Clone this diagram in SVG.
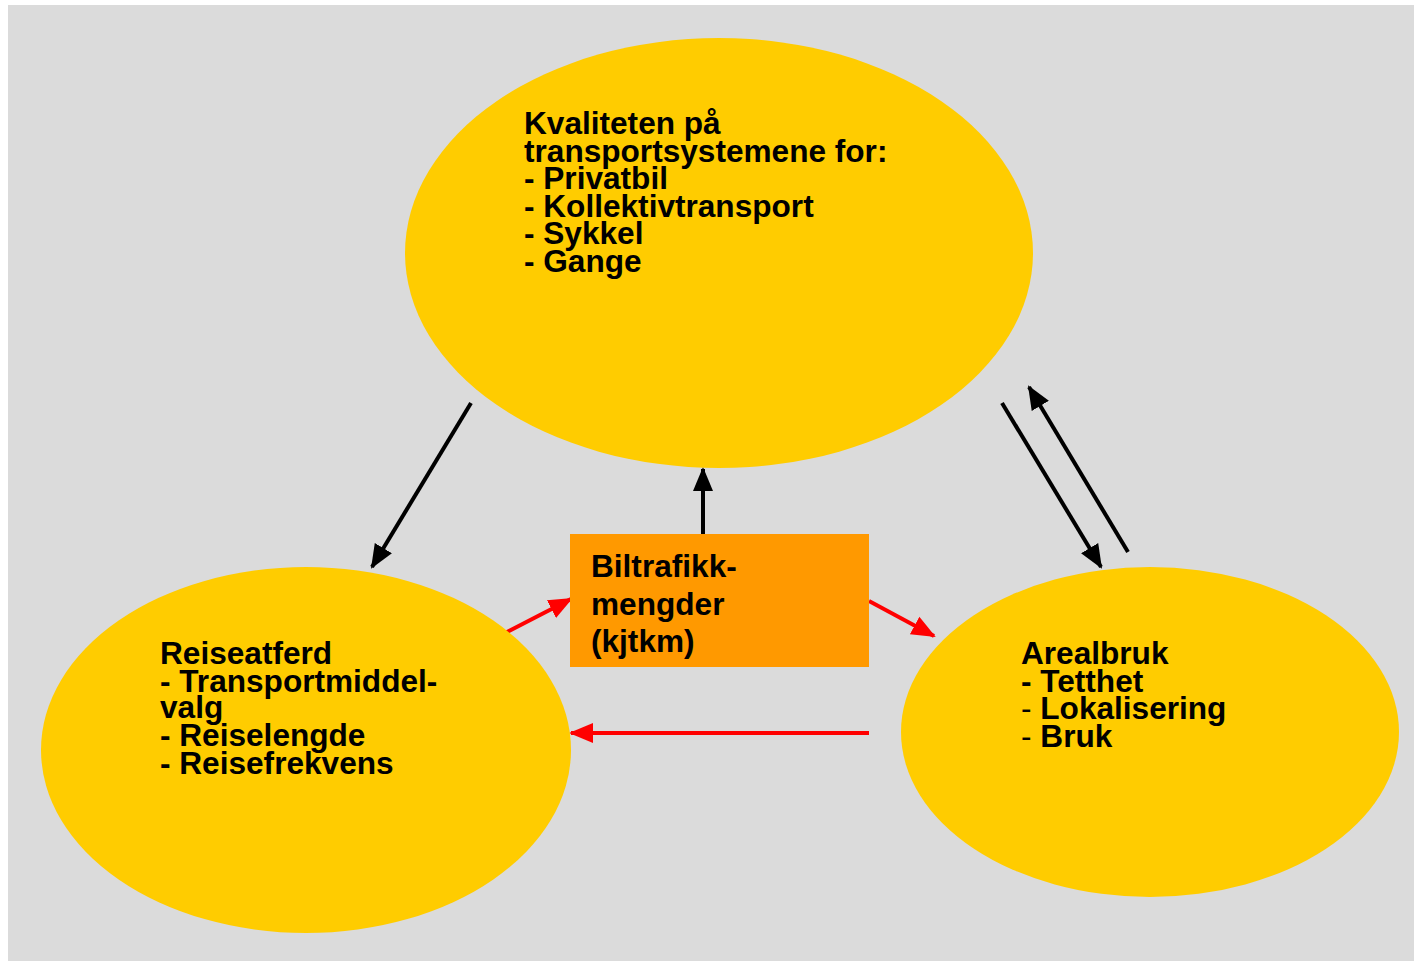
<svg xmlns="http://www.w3.org/2000/svg" width="1414" height="961" viewBox="0 0 1414 961">
<style>
.t{font-family:"Liberation Sans",Arial,sans-serif;font-weight:bold;font-size:31.6px;fill:#000}
.n{font-weight:normal}
.ell{fill:#FFCC00}
.blk{stroke:#000;stroke-width:4;fill:none}
.red{stroke:#FF0000;stroke-width:4;fill:none}
</style>
<defs>
<marker id="ab" markerUnits="userSpaceOnUse" markerWidth="24" markerHeight="24" viewBox="0 0 24 24" refX="22" refY="12" orient="auto">
<path d="M0,2 L24,12 L0,22 Z" fill="#000"/>
</marker>
<marker id="ar" markerUnits="userSpaceOnUse" markerWidth="24" markerHeight="24" viewBox="0 0 24 24" refX="22" refY="12" orient="auto">
<path d="M0,2 L24,12 L0,22 Z" fill="#FF0000"/>
</marker>
</defs>
<rect x="0" y="0" width="1414" height="961" fill="#FFFFFF"/>
<rect x="8" y="5" width="1406" height="956" fill="#DBDBDB"/>
<g id="connectors">
<line class="blk" x1="471" y1="403" x2="372" y2="567" marker-end="url(#ab)"/>
<line class="blk" x1="703" y1="534" x2="703" y2="469" marker-end="url(#ab)"/>
<line class="blk" x1="1002" y1="403" x2="1101" y2="567" marker-end="url(#ab)"/>
<line class="blk" x1="1128" y1="552" x2="1029" y2="387" marker-end="url(#ab)"/>
<line class="red" x1="505" y1="633" x2="571" y2="599" marker-end="url(#ar)"/>
<line class="red" x1="869" y1="601" x2="934" y2="636" marker-end="url(#ar)"/>
<line class="red" x1="869" y1="733" x2="571" y2="733" marker-end="url(#ar)"/>
</g>
<g id="kvalitet">
<ellipse class="ell" cx="719" cy="253" rx="314" ry="215"/>
<text class="t" x="524" y="134">Kvaliteten på</text>
<text class="t" x="524" y="161.5">transportsystemene for:</text>
<text class="t" x="524" y="189">- Privatbil</text>
<text class="t" x="524" y="216.5">- Kollektivtransport</text>
<text class="t" x="524" y="244">- Sykkel</text>
<text class="t" x="524" y="271.5">- Gange</text>
</g>
<g id="reiseatferd">
<ellipse class="ell" cx="306" cy="750" rx="265" ry="183"/>
<text class="t" x="160" y="664">Reiseatferd</text>
<text class="t" x="160" y="691.5">- Transportmiddel-</text>
<text class="t" x="160" y="718">valg</text>
<text class="t" x="160" y="746">- Reiselengde</text>
<text class="t" x="160" y="773.5">- Reisefrekvens</text>
</g>
<g id="arealbruk">
<ellipse class="ell" cx="1150" cy="732" rx="249" ry="165"/>
<text class="t" x="1021" y="664">Arealbruk</text>
<text class="t" x="1021" y="691.5">- Tetthet</text>
<text class="t" x="1021" y="719"><tspan class="n">-</tspan> Lokalisering</text>
<text class="t" x="1021" y="746.5"><tspan class="n">-</tspan> Bruk</text>
</g>
<g id="biltrafikk">
<rect x="570" y="534" width="299" height="133" fill="#FF9900"/>
<text class="t" x="591" y="577">Biltrafikk-</text>
<text class="t" x="591" y="614.5">mengder</text>
<text class="t" x="591" y="652">(kjtkm)</text>
</g>
</svg>
